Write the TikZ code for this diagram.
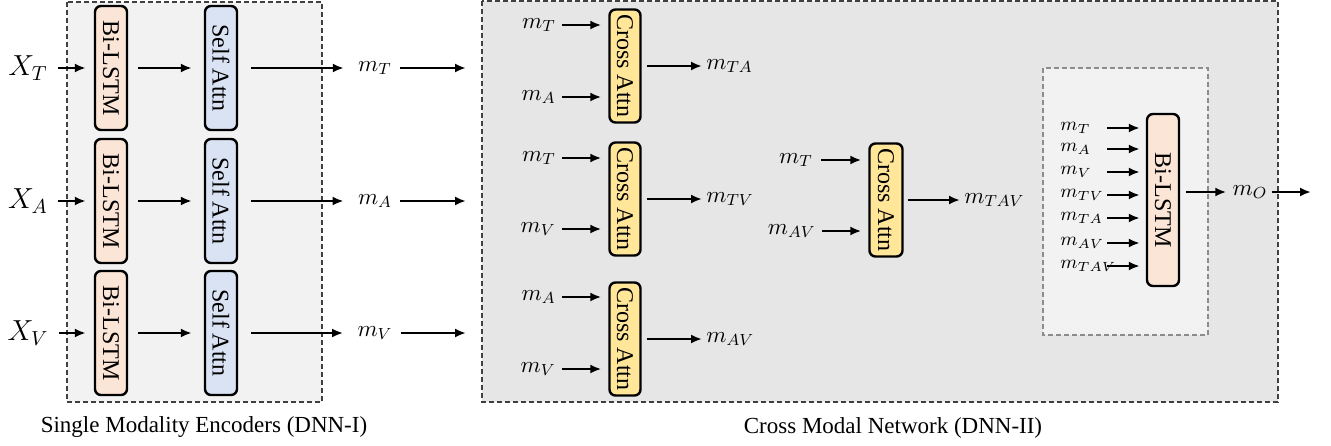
\RequirePackage{fix-cm}
\documentclass[tikz,border=0pt]{standalone}
\usepackage{fontspec}
\setmainfont{Liberation Serif}
\usepackage{xcolor}
\usepackage{graphicx}
\usepackage{amsmath}
\usetikzlibrary{arrows.meta}

\definecolor{lstmfill}{HTML}{FBE5D6}
\definecolor{selffill}{HTML}{DAE3F3}
\definecolor{crossfill}{HTML}{FFE699}
\definecolor{encfill}{HTML}{F2F2F2}
\definecolor{netfill}{HTML}{E7E6E6}
\newcommand{\vtext}[1]{\rotatebox{-90}{#1}}

\begin{document}
\begin{tikzpicture}[x=0.5pt,y=-0.5pt,
		box/.style={draw,line width=1.2pt,rounded corners=3pt,inner sep=0pt,font=\fontsize{12}{14}\selectfont},
		lstm/.style={box,fill=lstmfill,minimum width=16pt,minimum height=62pt},
		selfattn/.style={box,fill=selffill,minimum width=16pt,minimum height=62pt},
		crossattn/.style={box,fill=crossfill,minimum width=15.5pt,minimum height=56.5pt},
		lbl/.style={inner sep=1pt,font=\fontsize{11.5}{13}\selectfont},
		smalllbl/.style={inner sep=1pt,font=\fontsize{9.5}{11}\selectfont},
		arr/.style={line width=1.1pt,-{Latex[length=5.5pt,width=4.5pt]}},
		region/.style={dash pattern=on 2.5pt off 1.5pt,line width=0.6pt,draw=black!75}]
	\useasboundingbox (0,0) rectangle (1331,445);
	
	\draw[region,fill=encfill] (67,2) rectangle (322,402);
	\draw[region,fill=netfill] (482,1) rectangle (1278,402);
	\draw[region,draw=black!45,fill=encfill] (1043,68) rectangle (1208,335);
	
	\node[font=\fontsize{11.5}{13}\selectfont] at (204,427) {Single Modality Encoders (DNN-I)};
	\node[font=\fontsize{11.5}{13}\selectfont] at (893,428) {Cross Modal Network (DNN-II)};
	
	\foreach \s/\y in {T/68,A/201,V/333}{
		\node[lbl,font=\fontsize{14.5}{16}\selectfont] (x\s) at (28,\y) {$X_\s$};
		\node[lstm] (lstm\s) at (111,\y) {\vtext{Bi-LSTM}};
		\node[selfattn] (self\s) at (221,\y) {\vtext{Self Attn}};
		\node[lbl] (m\s) at (375,\y) {$m_\s$};
		\coordinate (out\s) at (466,\y);
		\draw[arr,shorten <=4pt,shorten >=4pt] (x\s) -- (lstm\s);
		\draw[arr,shorten <=5pt,shorten >=6pt] (lstm\s) -- (self\s);
		\draw[arr,shorten <=6.5pt,shorten >=6pt] (self\s) -- (m\s);
		\draw[arr,shorten <=3pt] (m\s) -- (out\s);
	}
	
	\foreach \n/\a/\b/\o/\ya/\yb/\yc in {1/T/A/TA/25/97/66, 2/T/V/TV/158/229/199, 3/A/V/AV/297/369/339}{
		\node[crossattn] (ca\n) at (625,\yc) {\vtext{Cross Attn}};
		\node[lbl,anchor=east] (ina\n) at (558,\ya) {$m_\a$};
		\node[lbl,anchor=east] (inb\n) at (558,\yb) {$m_\b$};
		\node[lbl,anchor=west] (out\o) at (704,\yc) {$m_{\o}$};
		\draw[arr,shorten <=2pt,shorten >=3.5pt] (ina\n) -- (ina\n -| ca\n.west);
		\draw[arr,shorten <=2pt,shorten >=3.5pt] (inb\n) -- (inb\n -| ca\n.west);
		\draw[arr,shorten <=2.5pt,shorten >=1pt] (ca\n) -- (out\o);
	}
	
	\node[crossattn,minimum width=16.5pt] (ca4) at (886,200) {\vtext{Cross Attn}};
	\node[lbl,anchor=east] (ina4) at (815,160) {$m_T$};
	\node[lbl,anchor=east] (inb4) at (818,231) {$m_{AV}$};
	\node[lbl,anchor=west] (outTAV) at (962,200) {$m_{TAV}$};
	\draw[arr,shorten <=3pt,shorten >=3.5pt] (ina4) -- (ina4 -| ca4.west);
	\draw[arr,shorten <=2pt,shorten >=3.5pt] (inb4) -- (inb4 -| ca4.west);
	\draw[arr,shorten <=2pt,shorten >=1pt] (ca4) -- (outTAV);
	
	\node[lstm,minimum height=86pt] (blstm) at (1163,200) {\vtext{Bi-LSTM}};
	\coordinate (instart) at (1107,0);
	\foreach \s/\y in {T/128,A/149,V/172,TV/195,TA/218,AV/243,TAV/266}{
		\node[smalllbl,anchor=west] (in\s) at (1058,\y) {$m_{\s}$};
		\draw[arr] (in\s.east -| instart) -- ([xshift=-3pt]in\s.east -| blstm.west);
	}
	\node[lbl] (mO) at (1250,192) {$m_O$};
	\coordinate (fin) at (1311,192);
	\draw[arr,shorten <=3pt,shorten >=2pt] (blstm.east |- mO) -- (mO);
	\draw[arr,shorten <=1pt] (mO) -- (fin);
\end{tikzpicture}
\end{document}
